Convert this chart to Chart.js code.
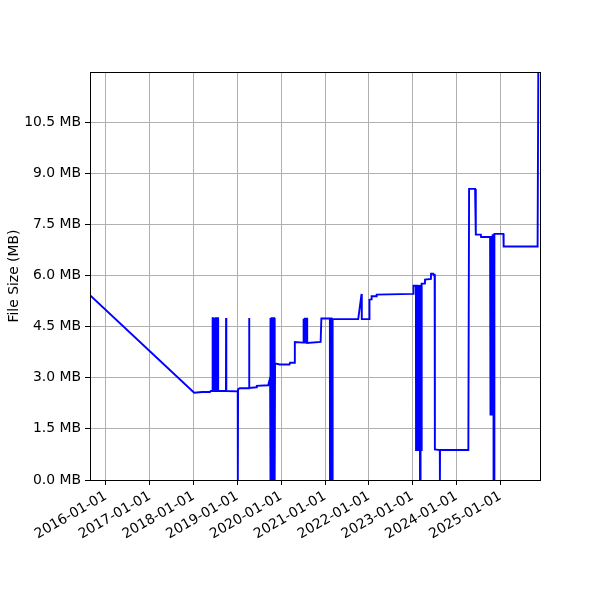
<!DOCTYPE html>
<html>
<head>
<meta charset="utf-8">
<script src="https://cdn.jsdelivr.net/npm/chart.js@4.4.1/dist/chart.umd.min.js"></script>
<style>
  html, body { margin: 0; padding: 0; background: #fff; }
  #wrap { width: 600px; height: 600px; }
</style>
</head>
<body>
<div id="wrap"><canvas id="c" width="600" height="600"></canvas></div>
<script>
// ---- data ----
const dates = [
  '2015-08-22','2018-01-06','2018-03-15','2018-05-17','2018-05-24',
  '2018-06-08','2018-06-09','2018-06-15','2018-06-16','2018-06-21','2018-06-22','2018-06-28','2018-06-29',
  '2018-07-04','2018-07-05','2018-07-11','2018-07-12','2018-07-17','2018-07-18','2018-07-24','2018-07-25',
  '2018-09-28','2018-09-29','2018-10-01',
  '2019-01-04','2019-01-05','2019-01-07','2019-01-20',
  '2019-04-08','2019-04-09','2019-04-11','2019-06-10','2019-06-12','2019-09-15','2019-10-01',
  '2019-10-03','2019-10-05','2019-10-11','2019-10-13','2019-10-19','2019-10-21','2019-10-27','2019-10-29',
  '2019-11-04','2019-11-06','2019-11-10','2019-11-11','2019-12-20','2020-03-10','2020-03-15','2020-04-22',
  '2020-04-24','2020-07-02','2020-07-03','2020-07-09','2020-07-10','2020-07-15','2020-07-16','2020-07-22',
  '2020-07-23','2020-07-28','2020-07-29','2020-08-04','2020-08-05','2020-11-25','2020-12-01',
  '2021-02-10','2021-02-11','2021-02-18','2021-02-19','2021-02-24','2021-02-25','2021-03-03','2021-03-05',
  '2021-10-04','2021-11-01','2021-11-03',
  '2022-01-04','2022-01-06','2022-01-22','2022-01-24','2022-03-05','2022-03-07',
  '2023-01-06','2023-01-08','2023-01-28','2023-01-29','2023-02-03','2023-02-04','2023-02-09','2023-02-10',
  '2023-02-15','2023-02-16','2023-02-21','2023-02-22','2023-02-27','2023-02-28','2023-03-02','2023-03-03',
  '2023-03-04','2023-03-09','2023-03-10','2023-03-15','2023-03-17','2023-04-13','2023-04-14','2023-06-02',
  '2023-06-03','2023-06-20','2023-06-25','2023-07-03','2023-07-05','2023-08-15','2023-08-16','2023-08-17',
  '2024-04-09','2024-04-15','2024-06-04','2024-06-10','2024-07-22','2024-07-24','2024-10-07',
  '2024-10-10','2024-10-11','2024-10-16','2024-10-17','2024-10-22','2024-10-23','2024-10-28','2024-10-29',
  '2024-11-04','2024-11-05','2024-11-10','2024-11-12',
  '2025-01-26','2025-01-28','2025-11-07','2025-11-14'
];
const sizesMB = [
  5.42,2.56,2.58,2.58,2.61,
  2.61,4.75,4.75,2.61,2.61,4.75,4.75,2.61,
  2.61,4.75,4.75,2.61,2.61,4.75,4.75,2.61,
  2.61,4.75,2.61,
  2.60,0,2.66,2.69,
  2.69,4.75,2.70,2.72,2.76,2.78,3.00,
  4.75,0,0,4.75,4.75,0,0,4.75,
  4.75,0,0,3.42,3.39,3.39,3.44,3.44,
  4.05,4.03,4.73,4.73,4.03,4.03,4.73,4.73,
  4.03,4.03,4.73,4.73,4.02,4.05,4.74,
  4.74,0,0,4.74,4.74,0,0,4.72,
  4.72,5.46,4.72,
  4.72,5.29,5.30,5.39,5.39,5.44,
  5.46,5.70,5.70,0.88,0.88,5.70,5.70,0.88,
  0.88,5.72,5.72,0.88,0.88,5.72,5.72,0,
  5.73,5.73,0.88,0.88,5.76,5.76,5.88,5.90,
  6.05,6.05,6.02,6.02,0.90,0.88,0,0.88,
  0.88,8.54,8.54,7.20,7.20,7.13,7.13,
  7.14,1.92,1.92,7.16,7.16,1.92,1.92,7.18,
  7.18,0,0,7.22,
  7.22,6.85,6.85,13.0
];
const xTickLabels = ['2016-01-01','2017-01-01','2018-01-01','2019-01-01','2020-01-01',
                     '2021-01-01','2022-01-01','2023-01-01','2024-01-01','2025-01-01'];
const yTickValues = [0, 1.5, 3.0, 4.5, 6.0, 7.5, 9.0, 10.5];
const xRange = ['2015-08-22', '2025-11-27'];
const yRange = [0, 11.97];

// ---- chart ----
const toMs = s => Date.parse(s + 'T00:00:00Z');
const points = dates.map((d, i) => ({ x: toMs(d), y: sizesMB[i] }));

Chart.defaults.font.family = '"DejaVu Sans", sans-serif';
Chart.defaults.font.size = 13.9;
Chart.defaults.color = '#000';

const frame = {
  id: 'frame',
  afterDatasetsDraw(chart) {
    const a = chart.chartArea, ctx = chart.ctx;
    ctx.save();
    ctx.strokeStyle = '#000';
    ctx.lineWidth = 1;
    ctx.strokeRect(Math.round(a.left) + 0.5, Math.round(a.top) + 0.5,
                   Math.round(a.right - a.left), Math.round(a.bottom - a.top));
    ctx.restore();
  }
};

new Chart(document.getElementById('c'), {
  type: 'line',
  data: {
    datasets: [{
      data: points,
      borderColor: '#0000ff',
      borderWidth: 1.9,
      pointRadius: 0,
      tension: 0,
      fill: false,
      clip: 0
    }]
  },
  options: {
    responsive: false,
    animation: false,
    events: [],
    layout: { padding: { left: 0, top: 72, right: 60, bottom: 0 } },
    plugins: { legend: { display: false }, tooltip: { enabled: false } },
    scales: {
      x: {
        type: 'linear',
        min: toMs(xRange[0]),
        max: toMs(xRange[1]),
        afterBuildTicks: s => { s.ticks = xTickLabels.map(l => ({ value: toMs(l) })); },
        afterFit: s => { s.height = 120; },
        ticks: {
          autoSkip: false,
          maxRotation: 30, minRotation: 30,
          padding: 3,
          callback: v => new Date(v).toISOString().slice(0, 10)
        },
        grid: { color: '#b0b0b0', lineWidth: 1, tickColor: '#000', tickLength: 5, drawTicks: true },
        border: { display: true, color: '#000', width: 1 }
      },
      y: {
        type: 'linear',
        min: yRange[0],
        max: yRange[1],
        afterBuildTicks: s => { s.ticks = yTickValues.map(v => ({ value: v })); },
        afterFit: s => { s.width = 90; },
        ticks: {
          padding: 4,
          callback: v => v.toFixed(1) + ' MB'
        },
        grid: { color: '#b0b0b0', lineWidth: 1, tickColor: '#000', tickLength: 5, drawTicks: true },
        border: { display: true, color: '#000', width: 1 },
        title: { display: true, text: 'File Size (MB)', font: { size: 13.9 }, padding: { top: 6, bottom: 0 } }
      }
    }
  },
  plugins: [frame]
});
</script>
</body>
</html>
